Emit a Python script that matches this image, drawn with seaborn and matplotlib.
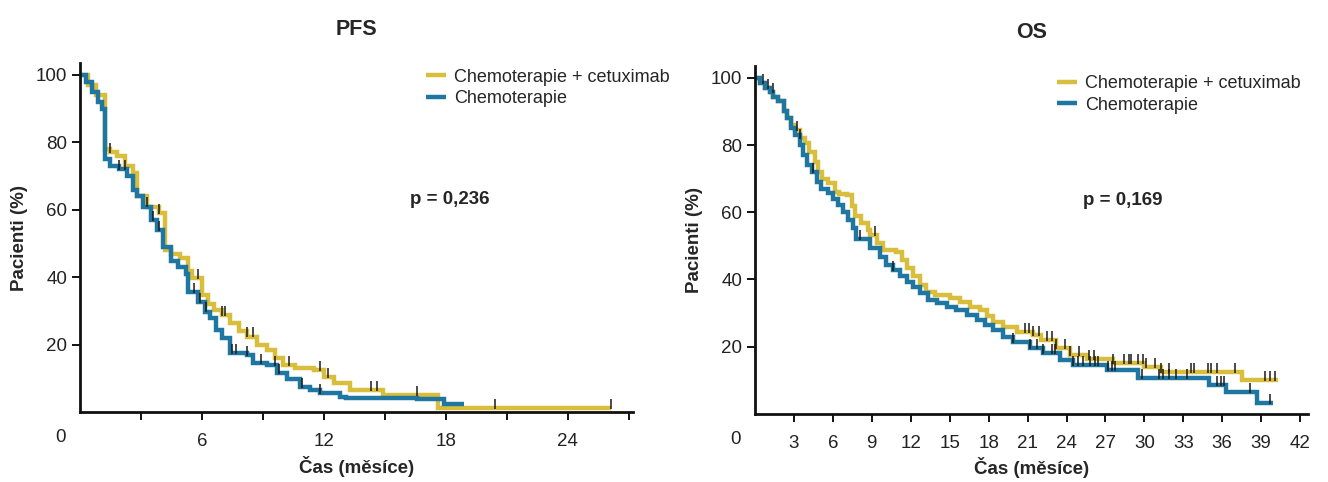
import numpy as np
import pandas as pd
import matplotlib
matplotlib.use("Agg")
import matplotlib.pyplot as plt
import seaborn as sns

# ---- Kaplan-Meier step data (time in months, survival in %) ----
# PFS, chemotherapy + cetuximab
pfs_cet_t = [0, 0.4, 0.8, 1.25, 1.5, 1.8, 2.2, 2.6, 2.8, 3.3, 3.9, 4.2, 4.5, 4.9, 5.3, 5.5,
             6.0, 6.3, 6.6, 7.0, 7.4, 7.8, 8.2, 8.7, 9.2, 9.6, 10.0, 10.6, 11.5, 12.0, 12.5,
             13.3, 14.9, 17.6, 26.1]
pfs_cet_s = [100, 97, 94, 78, 77, 76, 73, 71, 64, 61, 59, 48, 47, 45.8, 42, 39.8,
             34.8, 32, 30.4, 29, 26.6, 24, 22.5, 20, 18.5, 16, 14, 13.2, 12.6, 10.6, 8.7,
             6.7, 5.2, 1.3, 1.3]
# PFS, chemotherapy
pfs_che_t = [0, 0.3, 0.6, 0.9, 1.1, 1.25, 1.5, 1.9, 2.3, 2.6, 2.8, 3.1, 3.5, 3.8, 4.1, 4.5,
             4.8, 5.2, 5.3, 5.8, 6.15, 6.4, 6.7, 7.0, 7.4, 8.2, 8.5, 9.2, 9.7, 10.2, 10.8,
             11.3, 11.8, 12.8, 13.1, 16.6, 17.9, 18.9]
pfs_che_s = [100, 98, 95, 92, 90, 75, 73, 72, 70, 66, 64, 61, 57, 54, 49, 45,
             43, 41, 35.8, 32.8, 29.9, 28, 24.4, 22, 17.6, 17, 14.6, 14, 11.7, 10, 7.6,
             6.6, 5.7, 4.7, 4.3, 3.9, 2.5, 2.5]
pfs_cet_cens = [1.5, 3.9, 5.8, 7.0, 7.15, 8.2, 8.5, 10.3, 11.8, 12.2, 14.3, 14.6, 16.6, 20.4, 26.1]
pfs_che_cens = [1.9, 2.2, 3.3, 3.6, 3.9, 5.6, 5.9, 6.2, 7.5, 7.7, 8.2, 8.9, 9.6, 9.8, 10.9, 11.8]

# OS, chemotherapy + cetuximab
os_cet_t = [0, 0.4, 0.77, 1.16, 1.41, 1.8, 2.2, 2.44, 2.8, 3.1, 3.47, 3.85, 4.2, 4.6, 4.86,
            5.2, 5.6, 6.16, 6.5, 7.06, 7.45, 7.7, 8.2, 8.7, 8.86, 9.4, 9.9, 10.9, 11.3, 11.7,
            12.2, 12.7, 13.2, 13.9, 15.0, 15.8, 16.6, 17.3, 17.85, 18.35, 19.1, 20.2, 21.4,
            22.0, 23.2, 24.3, 25.6, 27.6, 30.0, 31.3, 37.5, 40.3]
os_cet_s = [100, 98.4, 96.9, 95.9, 94.4, 93, 90, 88, 86, 84.5, 82, 80.6, 78, 75, 72,
            70, 68.6, 66, 65.5, 65, 62, 59, 56.8, 54.8, 53.3, 50.8, 48.8, 48.3, 45.8, 43.4,
            40.9, 38.4, 36.4, 35.4, 34.5, 33.4, 31.9, 31, 29, 27.5, 26, 24.5, 23.5,
            22, 19.6, 17.6, 16.4, 15.2, 14, 12.6, 10.1, 10.1]
# OS, chemotherapy
os_che_t = [0, 0.4, 0.77, 1.16, 1.41, 1.8, 2.2, 2.44, 2.8, 3.1, 3.47, 3.7, 4.0, 4.37, 4.75,
            5.1, 5.6, 6.0, 6.4, 6.8, 7.2, 7.55, 7.8, 8.86, 9.6, 10.1, 10.6, 11.2, 11.7, 12.2,
            12.7, 13.3, 14.0, 14.8, 15.5, 16.3, 17.1, 17.7, 18.35, 19.1, 19.9, 21.2, 22.2,
            23.5, 24.5, 27.1, 29.5, 35.0, 36.3, 38.7, 39.9]
os_che_s = [100, 98.4, 96.9, 95.9, 94.4, 93, 90, 88, 85, 83, 80, 77, 74, 72, 69,
            67, 65.6, 64, 62.2, 60.2, 57.7, 55.3, 52, 49.4, 46.8, 44.3, 42.9, 40.9, 39.4, 37.9,
            36, 33.9, 33, 31.9, 31, 29.5, 28, 26.5, 25, 23, 21.5, 19.6, 18.1,
            16.1, 14.6, 13.1, 10.7, 8.6, 6.6, 3.3, 3.3]
os_cet_cens = [0.6, 1.0, 3.2, 3.5, 9.25, 20.8, 21.1, 21.4, 21.9, 22.5, 22.9, 23.2, 23.9, 24.3,
               25.0, 25.7, 26.1, 27.6, 28.45, 28.8, 29.0, 29.5, 29.9, 30.1, 30.8, 31.3, 31.9,
               33.6, 33.8, 34.9, 35.1, 35.6, 37.0, 39.3, 39.7, 40.1]
os_che_cens = [1.4, 4.5, 8.1, 10.6, 19.9, 21.2, 21.7, 22.2, 22.9, 23.1, 24.5, 24.9, 25.3, 25.8,
               26.2, 26.4, 27.2, 27.5, 27.7, 29.8, 31.1, 31.4, 31.9, 32.4, 33.3, 35.6, 35.9,
               36.1, 38.1, 39.7]

labels = ["Chemoterapie + cetuximab", "Chemoterapie"]
titles = ["PFS", "OS"]
p_values = ["p = 0,236", "p = 0,169"]

YELLOW = "#D9BD3C"
BLUE = "#1F76A0"

sns.set_style("ticks")
plt.rcParams["font.family"] = ["Liberation Sans", "DejaVu Sans"]


def step_value(t, s, x):
    idx = np.searchsorted(np.asarray(t), np.asarray(x), side="right") - 1
    return np.asarray(s)[np.clip(idx, 0, len(s) - 1)]


def km_panel(ax, cet_t, cet_s, che_t, che_s, cet_c, che_c):
    for t, s, c, lab in [(cet_t, cet_s, YELLOW, labels[0]), (che_t, che_s, BLUE, labels[1])]:
        df = pd.DataFrame({"t": t, "s": s})
        sns.lineplot(data=df, x="t", y="s", ax=ax, color=c, lw=3.2, label=lab,
                     drawstyle="steps-post", estimator=None, sort=False,
                     solid_capstyle="butt", solid_joinstyle="miter")
    for t, s, cens in [(cet_t, cet_s, cet_c), (che_t, che_s, che_c)]:
        cdf = pd.DataFrame({"t": cens, "s": step_value(t, s, cens) + 1.2})
        sns.scatterplot(data=cdf, x="t", y="s", ax=ax, marker="|", color="#1a1a1a",
                        s=45, linewidth=1.1, zorder=5, legend=False)


fig = plt.figure(figsize=(13.28, 4.82), dpi=100)
ax1 = fig.add_axes([0.0602, 0.1442, 0.4164, 0.7251])
ax2 = fig.add_axes([0.5685, 0.1411, 0.4164, 0.7220])

km_panel(ax1, pfs_cet_t, pfs_cet_s, pfs_che_t, pfs_che_s, pfs_cet_cens, pfs_che_cens)
km_panel(ax2, os_cet_t, os_cet_s, os_che_t, os_che_s, os_cet_cens, os_che_cens)

# axis ranges and ticks
ax1.set_xlim(0, 27.2)
ax2.set_xlim(0, 42.6)
for ax in (ax1, ax2):
    ax.set_ylim(0, 103.5)
    ax.set_yticks([20, 40, 60, 80, 100])
    sns.despine(ax=ax)
    for side in ("left", "bottom"):
        ax.spines[side].set_linewidth(2.0)
        ax.spines[side].set_color("#111111")
    ax.tick_params(axis="both", direction="out", length=6, width=1.4, color="#111111",
                   labelsize=13.5, labelcolor="#222222", pad=3)
    ax.set_ylabel("Pacienti (%)", fontsize=13.5, fontweight="bold", labelpad=6)
    ax.set_xlabel("Čas (měsíce)", fontsize=13.5, fontweight="bold", labelpad=4)

ax1.set_xticks(np.arange(3, 28, 3))
ax1.set_xticklabels(["" if v % 6 else str(v) for v in range(3, 28, 3)])
ax2.set_xticks(np.arange(3, 43, 3))
ax2.set_xticklabels([str(v) for v in range(3, 43, 3)])
ax1.tick_params(axis="x", pad=9)
ax2.tick_params(axis="x", pad=9)

# "0" at the origin corner
for ax in (ax1, ax2):
    ax.text(-0.036, -0.072, "0", transform=ax.transAxes, fontsize=13.5, color="#222222",
            ha="center", va="center")

# titles and p values
for ax, title, p, (px, py) in [(ax1, titles[0], p_values[0], (18.2, 63)),
                               (ax2, titles[1], p_values[1], (28.3, 63.5))]:
    ax.set_title(title, fontsize=15.5, fontweight="bold", pad=20)
    ax.text(px, py, p, fontsize=13.5, fontweight="bold", ha="center", va="center")

# legends
ax1.legend(loc="upper left", bbox_to_anchor=(0.61, 1.01), frameon=False, fontsize=13,
           handlelength=1.1, handletextpad=0.45, borderpad=0, labelspacing=0.25)
ax2.legend(loc="upper left", bbox_to_anchor=(0.53, 1.0), frameon=False, fontsize=13,
           handlelength=1.1, handletextpad=0.45, borderpad=0, labelspacing=0.25)

fig.savefig("out.png", dpi=100, facecolor="white")
